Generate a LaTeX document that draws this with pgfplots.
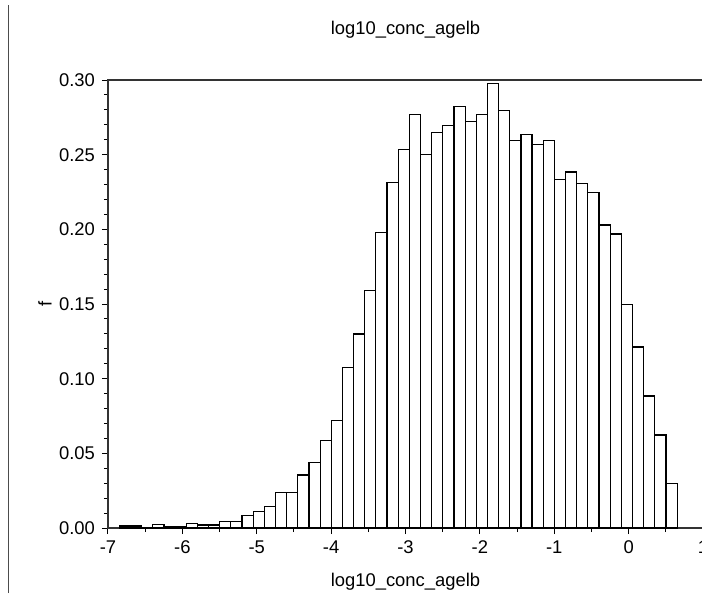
\documentclass[border=0pt]{standalone}
\usepackage{fontspec}
\setmainfont{Liberation Sans}
\usepackage{pgfplots}
\pgfplotsset{compat=1.18}

\begin{document}
\begin{tikzpicture}
\begin{axis}[
  scale only axis, width=297.5pt, height=224pt,
  xmin=-7, xmax=1, ymin=0, ymax=0.30,
  font=\fontsize{9.2pt}{11pt}\selectfont,
  /pgf/number format/assume math mode=true,
  xtick={-7,-6,...,1}, minor x tick num=1,
  ytick={0,0.05,...,0.30}, minor y tick num=4,
  yticklabel style={/pgf/number format/.cd, fixed, fixed zerofill, precision=2},
  tick align=outside, xtick pos=bottom, ytick pos=left,
  major tick length=3pt, minor tick length=2pt,
  tick style={black, line width=0.5pt},
  axis line style={line width=0.6pt, black!80},
  title={log10\_conc\_agelb},
  title style={at={(axis description cs:0.5,1)}, anchor=base, yshift=17pt, inner sep=0pt},
  xlabel={log10\_conc\_agelb},
  xlabel style={at={(axis description cs:0.5,0)}, anchor=base, yshift=-29pt, inner sep=0pt},
  ylabel={f},
  ylabel style={at={(axis description cs:-0.106,0.5)}, anchor=center, inner sep=0pt},
]
\addplot[ybar interval, draw=black, fill=white, line width=0.6pt] coordinates {
  (-6.848,0.0013) (-6.698,0.0013) (-6.548,0.0000) (-6.398,0.0022) (-6.248,0.0012)
  (-6.098,0.0012) (-5.948,0.0030) (-5.798,0.0020) (-5.648,0.0020) (-5.498,0.0045)
  (-5.348,0.0045) (-5.198,0.0082) (-5.048,0.0110) (-4.898,0.0145) (-4.748,0.0238)
  (-4.598,0.0238) (-4.448,0.0355) (-4.298,0.0440) (-4.148,0.0587) (-3.998,0.0721)
  (-3.848,0.1073) (-3.698,0.1299) (-3.548,0.1589) (-3.398,0.1978) (-3.248,0.2312)
  (-3.098,0.2533) (-2.948,0.2768) (-2.798,0.2500) (-2.648,0.2647) (-2.498,0.2697)
  (-2.348,0.2821) (-2.198,0.2723) (-2.048,0.2770) (-1.898,0.2975) (-1.748,0.2795)
  (-1.598,0.2594) (-1.448,0.2636) (-1.298,0.2567) (-1.148,0.2594) (-0.998,0.2335)
  (-0.848,0.2384) (-0.698,0.2306) (-0.548,0.2246) (-0.398,0.2029) (-0.248,0.1969)
  (-0.098,0.1498) (0.052,0.1212) (0.202,0.0884) (0.352,0.0623) (0.502,0.0299)
  (0.652,0)
};
\end{axis}
% stray frame line at the left edge of the reference
\draw[black!70, line width=0.5pt] (-49.5pt,-32.5pt) -- (-49.5pt,261.5pt);
\pgfresetboundingbox
\path[use as bounding box] (-54pt,-34pt) rectangle (297pt,264pt);
\end{tikzpicture}
\end{document}
